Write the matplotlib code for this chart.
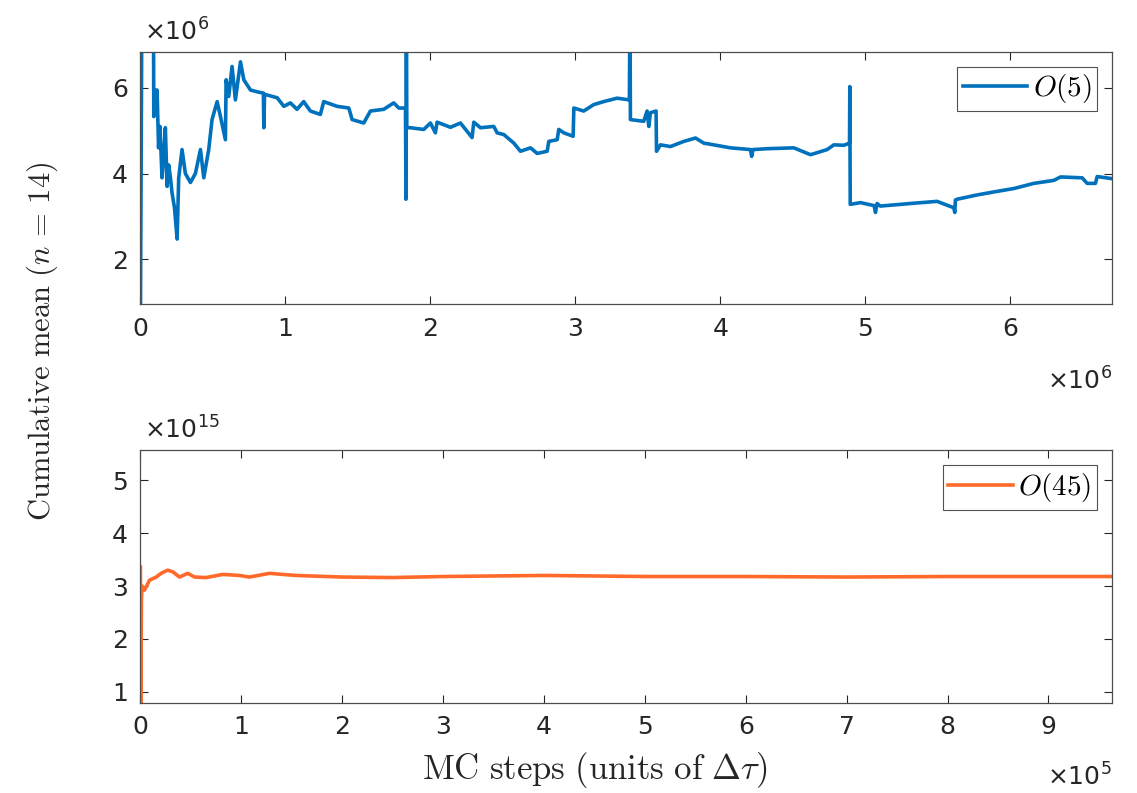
import numpy as np
import matplotlib.pyplot as plt

plt.rcParams["font.family"] = ["DejaVu Sans"]
plt.rcParams["mathtext.fontset"] = "cm"

# O(5): MC steps (x1e6) vs cumulative mean (x1e6)
steps_o5 = [0.000, 0.010, 0.090, 0.092, 0.100, 0.108, 0.115, 0.125, 0.135, 0.149,
            0.160, 0.172, 0.184, 0.195, 0.207, 0.218, 0.235, 0.253, 0.264, 0.287,
            0.310, 0.345, 0.379, 0.414, 0.437, 0.471, 0.494, 0.529, 0.552, 0.586,
            0.591, 0.609, 0.632, 0.655, 0.690, 0.713, 0.759, 0.816, 0.848, 0.851,
            0.856, 0.943, 0.989, 1.034, 1.080, 1.126, 1.172, 1.241, 1.264, 1.356,
            1.437, 1.460, 1.540, 1.586, 1.678, 1.747, 1.782, 1.828, 1.831, 1.834,
            1.837, 1.862, 1.954, 2.000, 2.034, 2.046, 2.138, 2.207, 2.287, 2.299,
            2.345, 2.437, 2.460, 2.506, 2.575, 2.621, 2.690, 2.736, 2.805, 2.816,
            2.874, 2.885, 2.920, 2.984, 2.989, 3.057, 3.126, 3.195, 3.287, 3.372,
            3.376, 3.379, 3.471, 3.494, 3.506, 3.517, 3.556, 3.559, 3.586, 3.655,
            3.747, 3.828, 3.885, 3.954, 4.069, 4.207, 4.215, 4.225, 4.322, 4.506,
            4.621, 4.736, 4.782, 4.851, 4.890, 4.892, 4.895, 4.966, 5.060, 5.069,
            5.080, 5.103, 5.310, 5.494, 5.609, 5.616, 5.620, 5.632, 5.770, 5.885,
            6.023, 6.161, 6.299, 6.345, 6.494, 6.529, 6.586, 6.598, 6.701]
mean_o5 = [0.50, 8.00, 8.00, 5.33, 5.95, 5.40, 5.95, 4.60, 5.10, 3.90,
           4.40, 5.07, 3.70, 4.20, 3.90, 3.55, 3.20, 2.47, 3.90, 4.56,
           4.00, 3.79, 4.00, 4.56, 3.90, 4.56, 5.26, 5.68, 5.33, 4.79,
           6.19, 5.80, 6.50, 5.72, 6.61, 6.19, 5.95, 5.90, 5.88, 5.07,
           5.85, 5.77, 5.57, 5.65, 5.50, 5.68, 5.46, 5.38, 5.68, 5.57,
           5.53, 5.26, 5.18, 5.46, 5.50, 5.65, 5.53, 5.53, 3.40, 8.00,
           5.07, 5.07, 5.03, 5.18, 4.95, 5.20, 5.08, 5.18, 4.84, 5.20,
           5.07, 5.10, 4.95, 4.91, 4.71, 4.52, 4.60, 4.47, 4.52, 4.75,
           4.79, 5.03, 4.95, 4.87, 5.53, 5.46, 5.61, 5.68, 5.76, 5.72,
           8.00, 5.26, 5.22, 5.46, 5.10, 5.42, 5.46, 4.52, 4.67, 4.63,
           4.75, 4.83, 4.71, 4.67, 4.60, 4.56, 4.40, 4.56, 4.58, 4.60,
           4.44, 4.56, 4.67, 4.66, 4.71, 6.03, 3.28, 3.32, 3.25, 3.09,
           3.30, 3.24, 3.30, 3.35, 3.20, 3.09, 3.38, 3.40, 3.50, 3.57,
           3.65, 3.77, 3.84, 3.92, 3.90, 3.77, 3.77, 3.93, 3.88]

# O(45): MC steps (x1e5) vs cumulative mean (x1e15)
steps_o45 = [0.000, 0.003, 0.010, 0.015, 0.040, 0.090, 0.156, 0.205, 0.270, 0.320,
             0.387, 0.470, 0.536, 0.650, 0.817, 0.980, 1.080, 1.280, 1.540, 2.000,
             2.500, 3.000, 4.000, 5.000, 6.000, 7.000, 8.000, 9.000, 9.630]
mean_o45 = [3.36, 0.75, 2.74, 3.00, 2.92, 3.11, 3.17, 3.24, 3.30, 3.27,
            3.17, 3.24, 3.17, 3.16, 3.22, 3.20, 3.17, 3.24, 3.20, 3.17,
            3.16, 3.18, 3.20, 3.18, 3.18, 3.17, 3.18, 3.18, 3.18]

fig = plt.figure(figsize=(11.37, 7.93), dpi=100)
ax1 = fig.add_axes([0.1235, 0.6165, 0.8545, 0.318])
ax2 = fig.add_axes([0.1235, 0.1140, 0.8545, 0.318])

ax1.plot(steps_o5, mean_o5, color="#0072BD", lw=2.6, label=r"$O(5)$")
ax2.plot(steps_o45, mean_o45, color="#FF6A2A", lw=2.6, label=r"$O(45)$")

ax1.set_xlim(0, 6.70)
ax1.set_ylim(0.95, 6.84)
ax1.set_xticks(range(0, 7))
ax1.set_yticks([2, 4, 6])
ax2.set_xlim(0, 9.63)
ax2.set_ylim(0.79, 5.57)
ax2.set_xticks(range(0, 10))
ax2.set_yticks([1, 2, 3, 4, 5])

for ax in (ax1, ax2):
    ax.tick_params(direction="in", length=6, width=0.8, top=True, right=True,
                   labelsize=18, colors="0.15", pad=9)
    for sp in ax.spines.values():
        sp.set_color("0.3")
        sp.set_linewidth(0.9)
    leg = ax.legend(loc="upper right", fontsize=21, handlelength=2.2,
                    fancybox=False, borderpad=0.2, handletextpad=0.2,
                    borderaxespad=0.5)
    leg.get_frame().set_edgecolor("0.15")
    leg.get_frame().set_linewidth(0.8)

# exponent labels
fig.text(0.127, 0.942, r"$\times10^{6}$", fontsize=18, color="0.15",
         math_fontfamily="dejavusans", ha="left", va="bottom")
fig.text(0.978, 0.502, r"$\times10^{6}$", fontsize=18, color="0.15",
         math_fontfamily="dejavusans", ha="right", va="bottom")
fig.text(0.127, 0.440, r"$\times10^{15}$", fontsize=18, color="0.15",
         math_fontfamily="dejavusans", ha="left", va="bottom")
fig.text(0.978, 0.003, r"$\times10^{5}$", fontsize=18, color="0.15",
         math_fontfamily="dejavusans", ha="right", va="bottom")

fig.text(0.037, 0.57, r"$\mathrm{Cumulative\ mean}\ (n\, =\, 14)$", fontsize=22,
         rotation=90, ha="center", va="center", color="0.15")
fig.text(0.523, 0.029, r"$\mathrm{MC\ steps\ (units\ of\ }\Delta\tau)$", fontsize=25,
         ha="center", va="center", color="0.15")

fig.savefig("out.png", dpi=100)
